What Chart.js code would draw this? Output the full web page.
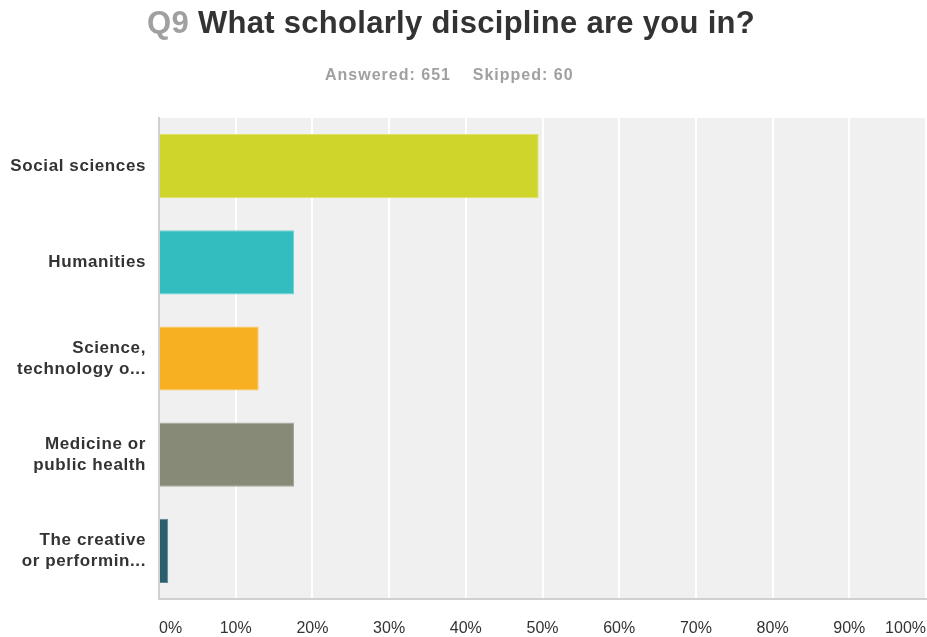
<!DOCTYPE html>
<html>
<head>
<meta charset="utf-8">
<script src="https://cdn.jsdelivr.net/npm/chart.js@4"></script>
<style>
  body { margin: 0; background: #fff; font-family: "Liberation Sans", Arial, sans-serif; }
  #wrap { position: relative; width: 927px; height: 637px; }
  #title { position: absolute; left: 147px; top: 5px; font-size: 31px; letter-spacing: 0.3px; font-weight: bold; color: #333; white-space: nowrap; }
  #title .q { color: #a0a0a0; }
  #sub { position: absolute; left: 325px; top: 66px; font-size: 16px; letter-spacing: 1px; font-weight: bold; color: #a0a0a0; white-space: pre; }
</style>
</head>
<body>
<div id="wrap">
  <canvas id="myChart" width="927" height="637"></canvas>
  <div id="title"><span class="q">Q9</span> What scholarly discipline are you in?</div>
  <div id="sub">Answered: 651    Skipped: 60</div>
</div>
<script>
let categories = [
  ['Social sciences'],
  ['Humanities'],
  ['Science,', 'technology o...'],
  ['Medicine or', 'public health'],
  ['The creative', 'or performin...']
];
let percents = [49.5, 17.6, 13.0, 17.6, 1.2];
let barColors = ['#cfd52a', '#33bdbf', '#f7b021', '#888a78', '#2c5f6e'];
let barEdges = ['#dde26a', '#6fd2d3', '#f9c65e', '#a3a595', '#5d8590'];
let tickLabels = ['0%', '10%', '20%', '30%', '40%', '50%', '60%', '70%', '80%', '90%', '100%'];

// grey plot background behind the bars, and a bit of letter spacing for the category labels
const plotBg = {
  id: 'plotBg',
  beforeDraw(chart) {
    const a = chart.chartArea, c = chart.ctx;
    c.letterSpacing = '0px';
    c.save();
    c.fillStyle = '#f0f0f0';
    c.fillRect(a.left, a.top, a.right - a.left, a.bottom - a.top);
    c.restore();
  },
  afterDatasetsDraw(chart) {
    chart.ctx.letterSpacing = '0.6px';
  },
  afterDraw(chart) {
    chart.ctx.letterSpacing = '0px';
  }
};

var ctx = document.getElementById('myChart').getContext('2d');
var myChart = new Chart(ctx, {
  type: 'bar',
  data: {
    labels: categories,
    datasets: [{
      data: percents,
      backgroundColor: barColors,
      borderColor: barEdges,
      borderWidth: 1,
      barPercentage: 0.667,
      categoryPercentage: 1
    }]
  },
  options: {
    indexAxis: 'y',
    responsive: false,
    animation: false,
    layout: { padding: { top: 118, right: 1, left: 0, bottom: 0 } },
    scales: {
      x: {
        min: 0,
        max: 100,
        afterFit: axis => { axis.height = 38; axis.paddingLeft = 0; axis.paddingRight = 0; },
        afterBuildTicks: axis => { axis.ticks = tickLabels.map((t, i) => ({ value: i * 10 })); },
        grid: { color: '#ffffff', lineWidth: 2, drawTicks: false },
        border: { display: true, color: '#d0d0d0', width: 2 },
        ticks: {
          align: 'inner',
          padding: 20,
          color: '#333',
          font: { family: 'Liberation Sans', size: 16 },
          maxRotation: 0,
          autoSkip: false,
          callback: (v, i) => tickLabels[i]
        }
      },
      y: {
        afterFit: axis => { axis.width = 159; axis.paddingTop = 0; axis.paddingBottom = 0; },
        grid: { display: false, drawTicks: false },
        border: { display: true, color: '#d0d0d0', width: 2 },
        ticks: {
          z: 1,
          padding: 13,
          color: '#333',
          font: { family: 'Liberation Sans', size: 17, weight: 'bold', lineHeight: 1.22 }
        }
      }
    },
    plugins: {
      legend: { display: false },
      tooltip: { enabled: false }
    }
  },
  plugins: [plotBg]
});
</script>
</body>
</html>
